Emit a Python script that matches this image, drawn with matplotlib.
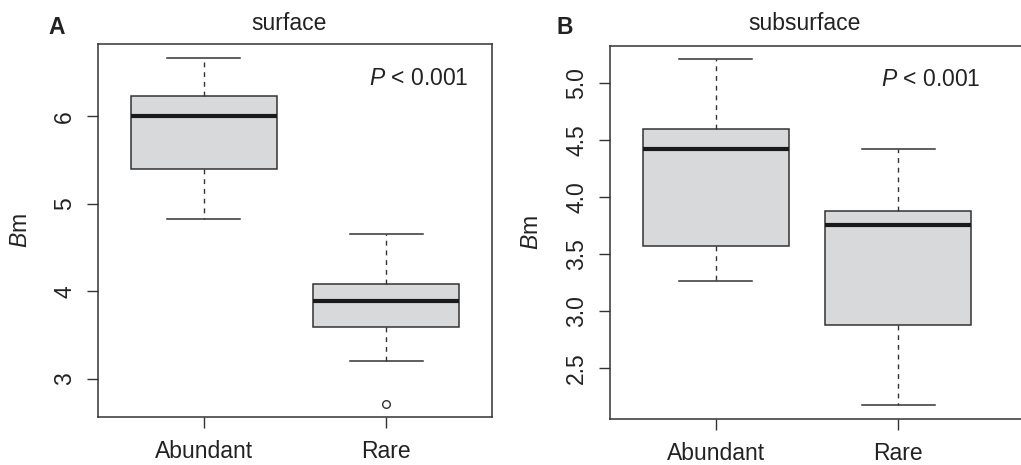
import matplotlib
matplotlib.use("Agg")
import matplotlib.pyplot as plt

plt.rcParams['font.family'] = ['Liberation Sans', 'DejaVu Sans']
plt.rcParams['mathtext.fontset'] = 'custom'
plt.rcParams['mathtext.rm'] = 'Liberation Sans'
plt.rcParams['mathtext.it'] = 'Liberation Sans:italic'

# values
groups = ['Abundant', 'Rare']

surface_whislo = [4.83, 3.20]
surface_q1 = [5.40, 3.59]
surface_med = [6.00, 3.89]
surface_q3 = [6.23, 4.08]
surface_whishi = [6.66, 4.66]
surface_fliers = [[], [2.72]]

subsurface_whislo = [3.27, 2.18]
subsurface_q1 = [3.57, 2.88]
subsurface_med = [4.42, 3.76]
subsurface_q3 = [4.60, 3.88]
subsurface_whishi = [5.21, 4.42]
subsurface_fliers = [[], []]

surface_yticks = [3, 4, 5, 6]
subsurface_yticks = [2.5, 3.0, 3.5, 4.0, 4.5, 5.0]

LINE = '#333333'
FILL = '#d8d9db'
FS = 16.5


def make_stats(lo, q1, med, q3, hi, fliers):
    stats = []
    for i in range(len(groups)):
        stats.append(dict(label=groups[i], whislo=lo[i], q1=q1[i], med=med[i],
                          q3=q3[i], whishi=hi[i], fliers=fliers[i]))
    return stats


def draw_panel(ax, stats, yticks, ylim, xlim, ytick_fmt):
    ax.bxp(stats, positions=[1, 2], widths=0.8, capwidths=0.4, patch_artist=True,
           boxprops=dict(facecolor=FILL, edgecolor=LINE, linewidth=1.1),
           medianprops=dict(color='#1a1a1a', linewidth=3.0, solid_capstyle='butt'),
           whiskerprops=dict(color=LINE, linewidth=1.0, linestyle=(0, (3.5, 3.5))),
           capprops=dict(color=LINE, linewidth=1.1),
           flierprops=dict(marker='o', markersize=5.5, markerfacecolor='none',
                           markeredgecolor=LINE, markeredgewidth=1.0))
    ax.set_xlim(*xlim)
    ax.set_ylim(*ylim)
    ax.set_xticks([1, 2])
    ax.set_xticklabels(groups)
    ax.set_yticks(yticks)
    ax.set_yticklabels([ytick_fmt.format(v) for v in yticks], rotation=90, va='center')
    ax.tick_params(axis='both', length=7.7, width=1.0, color=LINE, labelsize=FS,
                   labelcolor='#222222')
    ax.tick_params(axis='x', pad=9)
    ax.tick_params(axis='y', pad=8)
    for s in ax.spines.values():
        s.set_color(LINE)
        s.set_linewidth(1.1)
    ax.set_ylabel(r'$\mathit{B}$m', fontsize=FS, color='#222222', va='center')


fig = plt.figure(figsize=(10.21, 4.65), dpi=100)

axA = fig.add_axes([0.096, 0.1032, 0.3859, 0.8022])
draw_panel(axA, make_stats(surface_whislo, surface_q1, surface_med, surface_q3,
                           surface_whishi, surface_fliers),
           surface_yticks, (2.566, 6.825), (0.42, 2.58), '{:g}')
axA.yaxis.set_label_coords(-0.196, 0.5)
axA.set_title('surface', fontsize=FS, x=0.484, pad=10, color='#222222')
axA.text(0.939, 0.890, r'$\mathit{P}$ < 0.001', transform=axA.transAxes,
         ha='right', va='baseline', fontsize=FS, color='#222222')

axB = fig.add_axes([0.5975, 0.1, 0.4114, 0.8017])
draw_panel(axB, make_stats(subsurface_whislo, subsurface_q1, subsurface_med,
                           subsurface_q3, subsurface_whishi, subsurface_fliers),
           subsurface_yticks, (2.06, 5.33), (0.42, 2.724), '{:.1f}')
axB.yaxis.set_label_coords(-0.188, 0.5)
axB.set_title('subsurface', fontsize=FS, x=0.464, pad=11, color='#222222')
axB.text(0.881, 0.893, r'$\mathit{P}$ < 0.001', transform=axB.transAxes,
         ha='right', va='baseline', fontsize=FS, color='#222222')

fig.text(56.7 / 1021, 1 - 34 / 465, 'A', fontsize=FS, weight='bold',
         ha='center', va='baseline', color='#222222')
fig.text(565 / 1021, 1 - 34 / 465, 'B', fontsize=FS, weight='bold',
         ha='center', va='baseline', color='#222222')

fig.savefig('out.png', dpi=100)
